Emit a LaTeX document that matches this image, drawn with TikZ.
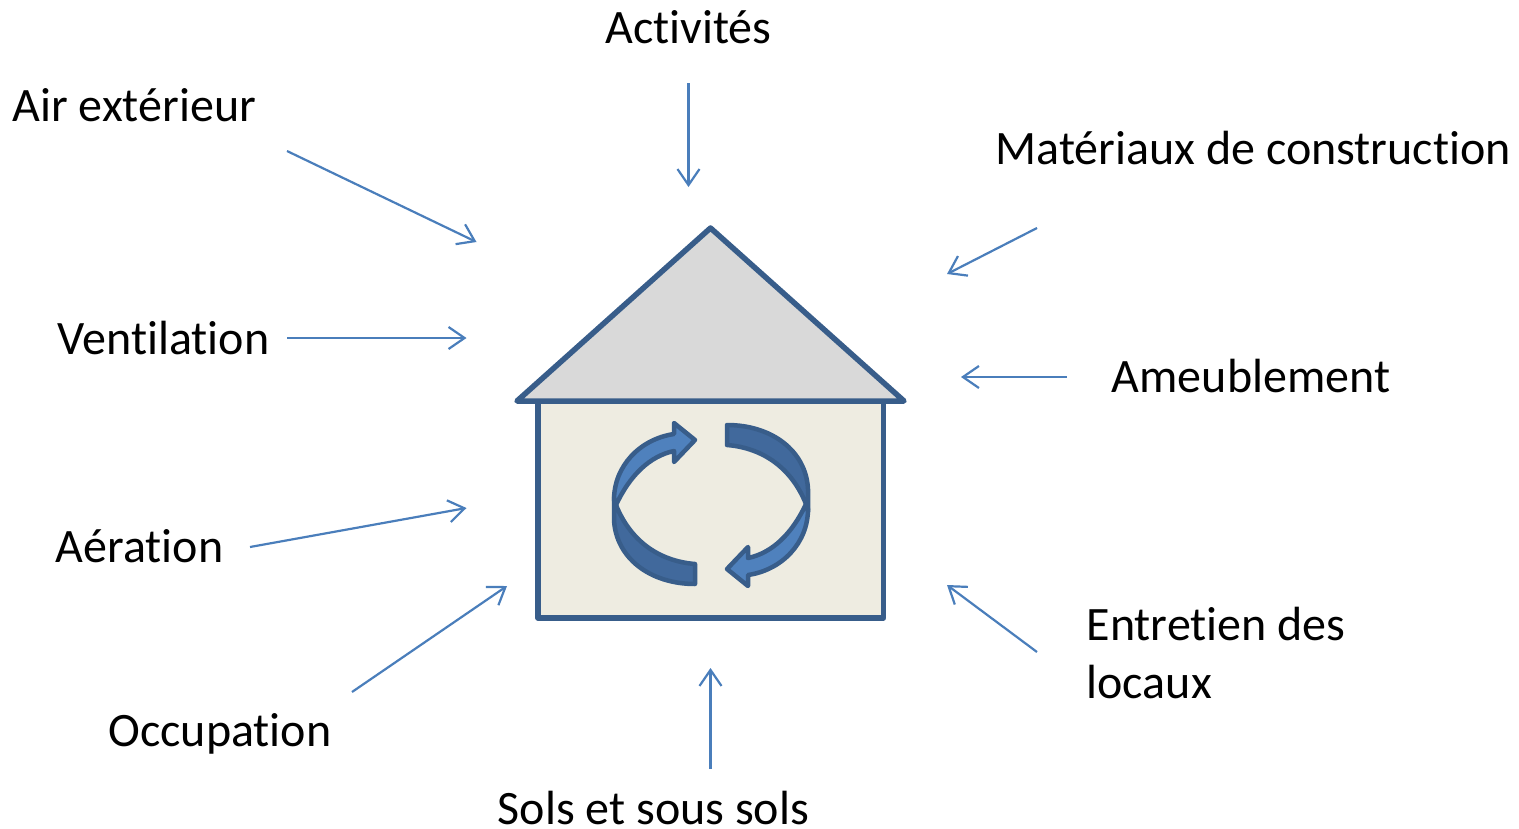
\documentclass[tikz,border=0pt]{standalone}
\usepackage{fontspec}
\setmainfont[Ligatures=NoCommon]{Carlito}
\usetikzlibrary{arrows.meta}
\definecolor{linkblue}{HTML}{4A7EBB}
\definecolor{wallblue}{HTML}{385D8A}
\definecolor{swirllight}{HTML}{4F81BD}
\definecolor{swirldark}{HTML}{41699C}
\definecolor{wallfill}{HTML}{EEECE1}
\definecolor{rooffill}{HTML}{D9D9D9}
\tikzset{
  source/.style={inner sep=0pt,anchor=base west,align=left,font=\fontsize{48}{58}\selectfont},
  link/.style={draw=linkblue,line width=2.2pt,-{Straight Barb[length=16pt,width=22pt,line width=2.2pt]}},
  wall/.style={draw=wallblue,line width=5.5pt,line join=round},
  swirl/.style={draw=wallblue,line width=4.5pt,line join=round}
}
\begin{document}
\begin{tikzpicture}[x=1pt,y=-1pt]
\useasboundingbox (0,0) rectangle (1519,828);
% house
\draw[wall,fill=wallfill] (538,401) rectangle (883.5,618);
\draw[wall,fill=rooffill] (517,401) -- (710.5,228) -- (904,401) -- cycle;
% the two turning arrows
\foreach \ang in {0,180}{
\begin{scope}[rotate around={\ang:(711,504.5)}]
  \draw[swirl,fill=swirldark] (614,497) -- (614,520) .. controls (616,558) and (650,584) .. (695,584)
    -- (695,564) .. controls (658,561) and (630,540) .. (616,505) -- cycle;
  \draw[swirl,fill=swirllight] (614,500) .. controls (614,466) and (640,439) .. (674,434)
    -- (674,423) -- (695,440) -- (674,462) -- (674,451)
    .. controls (650,456) and (630,475) .. (616,505) -- cycle;
\end{scope}
}
% sources
\node[source] (activites) at (605.3,43.3) {Activités};
\node[source] (air) at (12.3,121.3) {Air extérieur};
\node[source] (materiaux) at (995.3,164.3) {Matériaux de construction};
\node[source] (ventilation) at (57.6,354.3) {Ventilation};
\node[source] (ameublement) at (1111.6,392.3) {Ameublement};
\node[source] (aeration) at (55.6,562.3) {Aération};
\node[source] (occupation) at (108.3,746.3) {Occupation};
\node[source] (sols) at (497.6,824.3) {Sols et sous sols};
\node[source] (entretien) at (1086.4,698.3) {Entretien des\\locaux};
% arrow ends
\coordinate (activitesA) at (688.5,83);   \coordinate (activitesB) at (688.5,187);
\coordinate (airA) at (287,151);        \coordinate (airB) at (476.5,242);
\coordinate (materiauxA) at (1037,228); \coordinate (materiauxB) at (947,274);
\coordinate (ventilationA) at (287,338); \coordinate (ventilationB) at (466.5,338);
\coordinate (ameublementA) at (1067,377); \coordinate (ameublementB) at (961,377);
\coordinate (aerationA) at (250,547);   \coordinate (aerationB) at (466.5,508);
\coordinate (occupationA) at (352,692); \coordinate (occupationB) at (507,586);
\coordinate (solsA) at (710.5,769);       \coordinate (solsB) at (710.5,668);
\coordinate (entretienA) at (1037,652); \coordinate (entretienB) at (947,585);
\foreach \name in {activites,air,materiaux,ventilation,ameublement,aeration,occupation,sols,entretien}
  \draw[link] (\name A) -- (\name B);
\end{tikzpicture}
\end{document}
